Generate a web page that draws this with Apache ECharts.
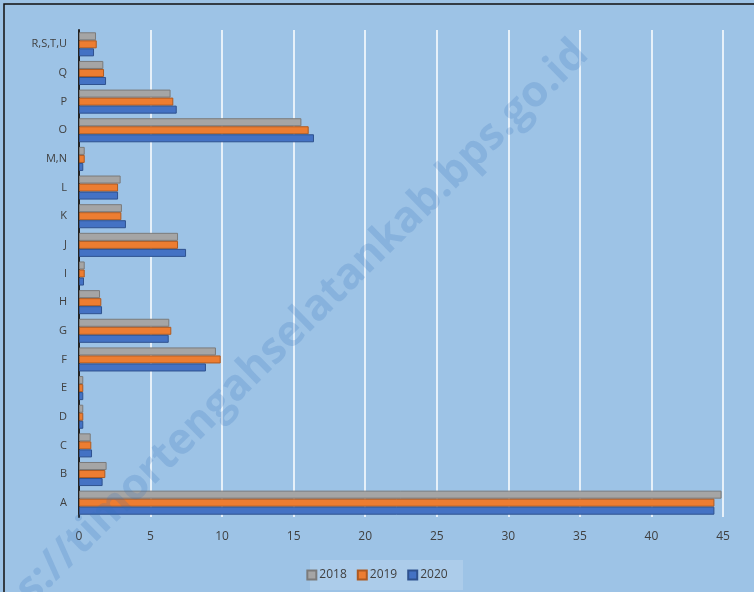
<!DOCTYPE html>
<html>
<head>
<meta charset="utf-8">
<script src="https://cdn.jsdelivr.net/npm/echarts@6/dist/echarts.min.js"></script>
<style>
  html, body { margin: 0; padding: 0; background: #9dc3e6; }
  #chart { width: 754px; height: 592px; }
</style>
</head>
<body>
<div id="chart"></div>
<script>
// kategori lapangan usaha (bawah ke atas)
var categories = ['A', 'B', 'C', 'D', 'E', 'F', 'G', 'H', 'I', 'J', 'K', 'L', 'M,N', 'O', 'P', 'Q', 'R,S,T,U'];
var data2018 = [44.9, 1.93, 0.82, 0.3, 0.3, 9.57, 6.31, 1.47, 0.4, 6.92, 3.0, 2.91, 0.4, 15.54, 6.4, 1.7, 1.19];
var data2019 = [44.4, 1.84, 0.86, 0.3, 0.3, 9.9, 6.45, 1.56, 0.4, 6.92, 2.96, 2.73, 0.4, 16.05, 6.59, 1.75, 1.24];
var data2020 = [44.4, 1.65, 0.91, 0.3, 0.3, 8.87, 6.27, 1.61, 0.35, 7.48, 3.28, 2.73, 0.3, 16.42, 6.83, 1.89, 1.05];
var xTicks = [0, 5, 10, 15, 20, 25, 30, 35, 40, 45];

var chart = echarts.init(document.getElementById('chart'));

function barSeries(name, data, color, edge) {
    return {
        name: name,
        type: 'bar',
        data: data,
        barGap: '0%',
        barCategoryGap: '16%',
        itemStyle: {
            color: color,
            borderColor: edge,
            borderWidth: 1
        }
    };
}

chart.setOption({
    backgroundColor: '#9dc3e6',
    textStyle: { fontFamily: 'Open Sans' },
    animation: false,
    graphic: [
        {
            type: 'rect',
            shape: { x: 4, y: 4, width: 800, height: 700 },
            style: { fill: 'none', stroke: '#111', lineWidth: 1.5 },
            z: 100
        },
        {
            type: 'rect',
            shape: { x: 310, y: 560, width: 153, height: 30 },
            style: { fill: 'rgba(190,215,240,0.45)' },
            z: 0
        },
        {
            type: 'text',
            x: -58, y: 646,
            rotation: Math.PI * 44.5 / 180,
            style: {
                text: 'https://timortengahselatankab.bps.go.id',
                font: 'bold 43px "Open Sans"',
                fill: 'rgba(50,110,185,0.2)'
            },
            z: 50
        }
    ],
    legend: {
        data: ['2018', '2019', '2020'],
        bottom: 6,
        left: 'center',
        itemWidth: 9,
        itemHeight: 9,
        itemGap: 10,
        icon: 'rect',
        textStyle: { color: '#404040', fontSize: 12, padding: [0, 0, 0, -2] }
    },
    grid: { left: 79, right: 31, top: 30, bottom: 75 },
    xAxis: {
        type: 'value',
        min: 0,
        max: 45,
        interval: 5,
        axisLine: { show: false },
        axisTick: { show: false },
        axisLabel: {
            color: '#404040', fontSize: 12, margin: 14,
            formatter: function (v) { return xTicks.indexOf(v) >= 0 ? v : ''; }
        },
        splitLine: { lineStyle: { color: '#ffffff', width: 1.5 } }
    },
    yAxis: {
        type: 'category',
        data: categories,
        axisLine: { lineStyle: { color: '#222', width: 2 } },
        axisTick: { show: false },
        axisLabel: { color: '#404040', fontSize: 11, margin: 12 }
    },
    series: [
        barSeries('2018', data2018, '#a5a5a5', '#7b7b7b'),
        barSeries('2019', data2019, '#ed7d31', '#ae5a21'),
        barSeries('2020', data2020, '#4472c4', '#2f528f')
    ]
});
</script>
</body>
</html>
